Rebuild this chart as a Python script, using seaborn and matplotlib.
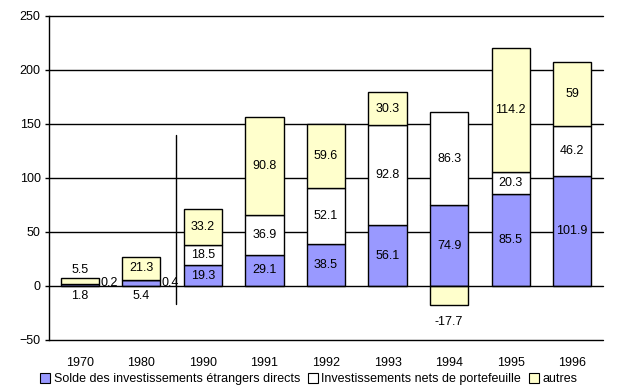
import pandas as pd
import matplotlib
matplotlib.use("Agg")
import matplotlib.pyplot as plt
from matplotlib.patches import Patch
import seaborn as sns

# data
years = ['1970', '1980', '1990', '1991', '1992', '1993', '1994', '1995', '1996']
directs = [1.8, 5.4, 19.3, 29.1, 38.5, 56.1, 74.9, 85.5, 101.9]
portefeuille = [0.2, 0.4, 18.5, 36.9, 52.1, 92.8, 86.3, 20.3, 46.2]
autres = [5.5, 21.3, 33.2, 90.8, 59.6, 30.3, -17.7, 114.2, 59]
series_names = ['Solde des investissements étrangers directs',
                'Investissements nets de portefeuille', 'autres']

colors = ['#9999FF', '#FFFFFF', '#FFFFCC']

sns.set_style('white')
plt.rcParams['font.family'] = ['Liberation Sans', 'DejaVu Sans']
for k in ['text.color', 'axes.labelcolor', 'xtick.color', 'ytick.color']:
    plt.rcParams[k] = 'black'

df = pd.DataFrame({'year': years, 'directs': directs,
                   'portefeuille': portefeuille, 'autres': autres})
df['bottom_port'] = df['directs']
df['bottom_autres'] = [d + p if a >= 0 else 0
                       for d, p, a in zip(df['directs'], df['portefeuille'], df['autres'])]

fig = plt.figure(figsize=(6.3, 3.91), dpi=100)
ax = fig.add_axes([49 / 630, 1 - 340 / 391, 554 / 630, 324 / 391])

bw = 0.62
sns.barplot(data=df, x='year', y='directs', order=years, color=colors[0],
            saturation=1, width=bw, edgecolor='black', linewidth=1, ax=ax, zorder=3)
sns.barplot(data=df, x='year', y='portefeuille', order=years, color=colors[1],
            saturation=1, width=bw, edgecolor='black', linewidth=1, ax=ax,
            bottom=df['bottom_port'].values, zorder=3)
sns.barplot(data=df, x='year', y='autres', order=years, color=colors[2],
            saturation=1, width=bw, edgecolor='black', linewidth=1, ax=ax,
            bottom=df['bottom_autres'].values, zorder=3)

# value labels
fs = 9
for i, row in df.iterrows():
    d, p, a = row['directs'], row['portefeuille'], row['autres']
    if d < 10:
        # small bars of 1970/1980: labels moved outside
        ax.text(i, -9, f'{d:g}', ha='center', va='center', fontsize=fs, zorder=5)
        ax.text(i + bw / 2 + 0.02, 2.5, f'{p:g}', ha='left', va='center', fontsize=fs, zorder=5)
        if a < 10:
            ax.text(i, d + p + a + 7, f'{a:g}', ha='center', va='center', fontsize=fs, zorder=5)
        else:
            ax.text(i, d + p + a / 2, f'{a:g}', ha='center', va='center', fontsize=fs, zorder=5)
        continue
    ax.text(i, d / 2, f'{d:g}', ha='center', va='center', fontsize=fs, zorder=5)
    ax.text(i, d + p / 2, f'{p:g}', ha='center', va='center', fontsize=fs, zorder=5)
    if a >= 0:
        ax.text(i, row['bottom_autres'] + a / 2, f'{a:g}', ha='center', va='center',
                fontsize=fs, zorder=5)
    else:
        ax.text(i, a - 16, f'{a:g}', ha='center', va='center', fontsize=fs, zorder=5)

# separator between 1980 and 1990
ax.plot([1.56, 1.56], [-17, 140], color='black', lw=1, zorder=4)

ax.set_xlim(-0.5, len(years) - 0.5)
ax.set_ylim(-50, 250)
ax.set_yticks(range(-50, 251, 50))
for v in range(-50, 251, 50):
    ax.axhline(v, color='black', lw=1, zorder=1 if v != 0 else 4, clip_on=False)

for s in ['top', 'right', 'bottom']:
    ax.spines[s].set_visible(False)
ax.spines['left'].set_color('black')
ax.spines['left'].set_linewidth(1)
ax.set_xlabel('')
ax.set_ylabel('')
ax.tick_params(axis='y', left=True, length=3, width=1, color='black', labelsize=fs, pad=3)
ax.tick_params(axis='x', bottom=False, labelsize=fs, pad=9)

handles = [Patch(facecolor=c, edgecolor='black', linewidth=0.8) for c in colors]
fig.legend(handles, series_names, loc='lower center', bbox_to_anchor=(0.49, -0.005),
           ncol=3, frameon=False, fontsize=fs, handlelength=0.8, handleheight=0.8,
           handletextpad=0.3, columnspacing=0.6, borderaxespad=0.2)

fig.savefig('out.png', dpi=100)
